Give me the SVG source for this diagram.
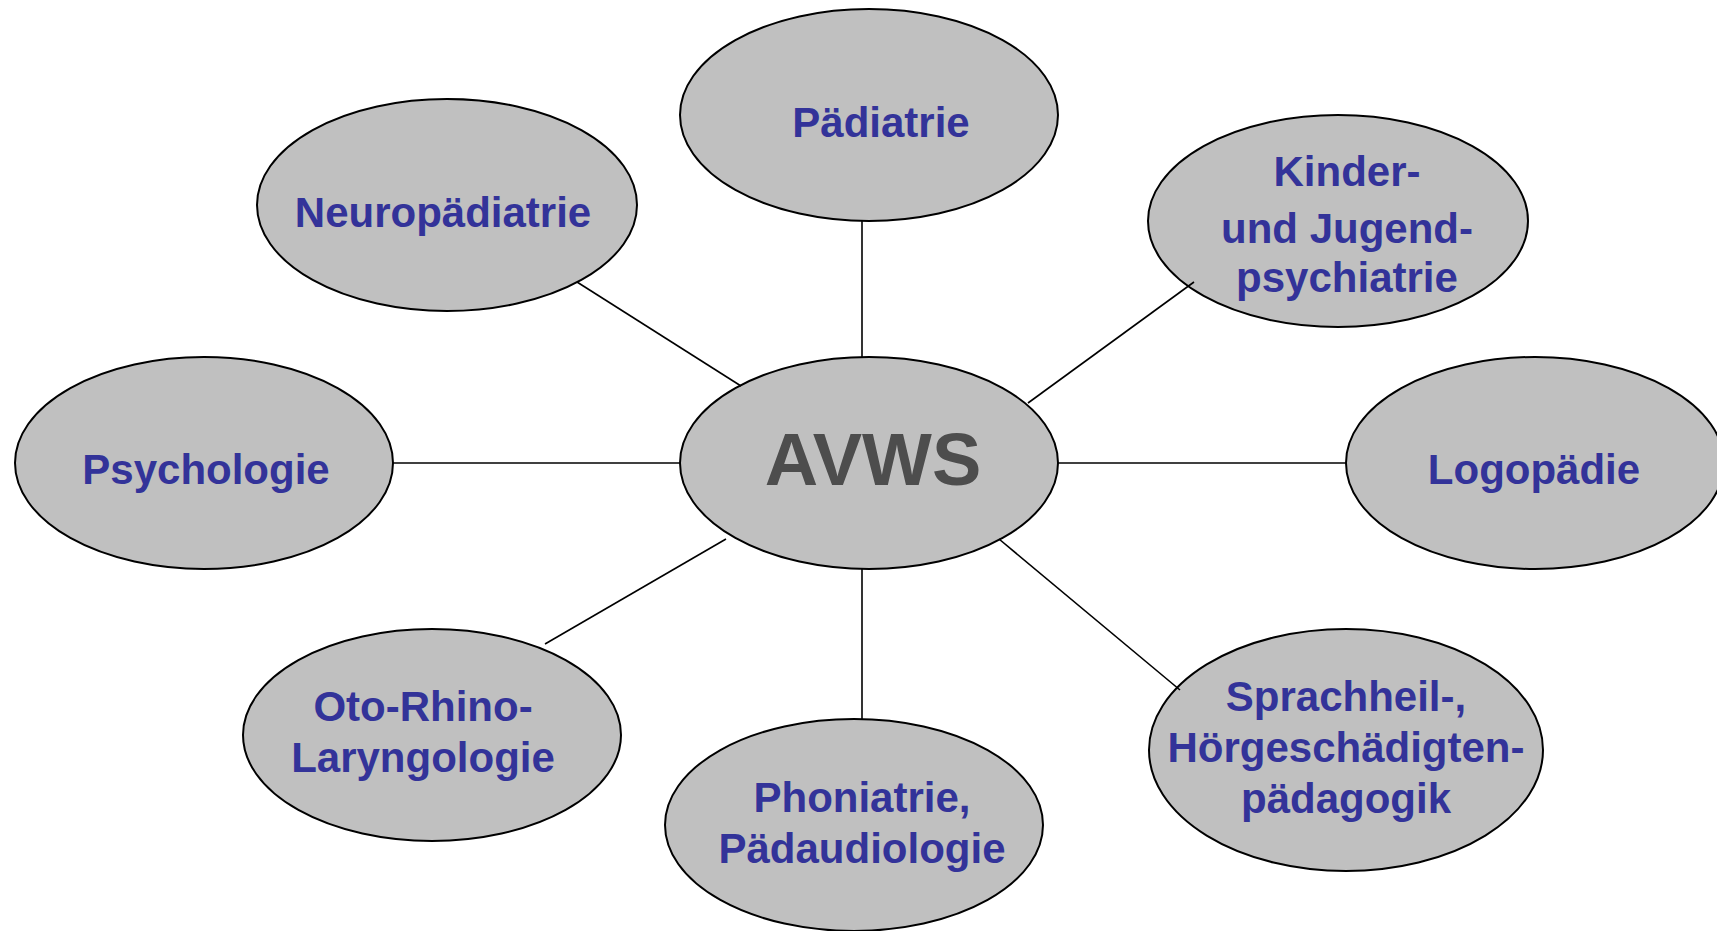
<svg xmlns="http://www.w3.org/2000/svg" width="1717" height="931" viewBox="0 0 1717 931">
<style>
.n{fill:#c0c0c0;stroke:#000;stroke-width:2}
.t{font-family:"Liberation Sans",Arial,sans-serif;font-weight:bold;font-size:42px;fill:#333399;text-anchor:middle}
.c{stroke:#000;stroke-width:1.6;fill:none}
</style>
<rect width="1717" height="931" fill="#fff"/>
<g id="paediatrie"><ellipse class="n" cx="869" cy="115" rx="189" ry="106"/><text class="t" x="881" y="137">Pädiatrie</text></g>
<g id="neuropaediatrie"><ellipse class="n" cx="447" cy="205" rx="190" ry="106"/><text class="t" x="443" y="227">Neuropädiatrie</text></g>
<g id="kjp"><ellipse class="n" cx="1338" cy="221" rx="190" ry="106"/><text class="t" x="1347" y="186">Kinder-</text><text class="t" x="1347" y="243">und Jugend-</text><text class="t" x="1347" y="292">psychiatrie</text></g>
<g id="psychologie"><ellipse class="n" cx="204" cy="463" rx="189" ry="106"/><text class="t" x="206" y="484">Psychologie</text></g>
<g id="avws"><ellipse class="n" cx="869" cy="463" rx="189" ry="106"/><text x="873" y="485" style="font-family:'Liberation Sans',Arial,sans-serif;font-weight:bold;font-size:74px;fill:#4d4d4d;text-anchor:middle">AVWS</text></g>
<g id="logopaedie"><ellipse class="n" cx="1535" cy="463" rx="189" ry="106"/><text class="t" x="1534" y="484">Logopädie</text></g>
<g id="orl"><ellipse class="n" cx="432" cy="735" rx="189" ry="106"/><text class="t" x="423" y="721">Oto-Rhino-</text><text class="t" x="423" y="772">Laryngologie</text></g>
<g id="phoniatrie"><ellipse class="n" cx="854" cy="825" rx="189" ry="106"/><text class="t" x="862" y="812">Phoniatrie,</text><text class="t" x="862" y="863">Pädaudiologie</text></g>
<g id="sprachheil"><ellipse class="n" cx="1346" cy="750" rx="197" ry="121"/><text class="t" x="1346" y="711">Sprachheil-,</text><text class="t" x="1346" y="762">Hörgeschädigten-</text><text class="t" x="1346" y="813">pädagogik</text></g>
<g id="connectors">
<line class="c" x1="862" y1="221" x2="862" y2="358"/>
<line class="c" x1="862" y1="568" x2="862" y2="720"/>
<line class="c" x1="393" y1="463" x2="681" y2="463"/>
<line class="c" x1="1058" y1="463" x2="1346" y2="463"/>
<line class="c" x1="741" y1="386" x2="577" y2="282"/>
<line class="c" x1="1028" y1="403" x2="1194" y2="282"/>
<line class="c" x1="726" y1="539" x2="545" y2="644"/>
<line class="c" x1="999" y1="539" x2="1180" y2="690"/>
</g>
</svg>
